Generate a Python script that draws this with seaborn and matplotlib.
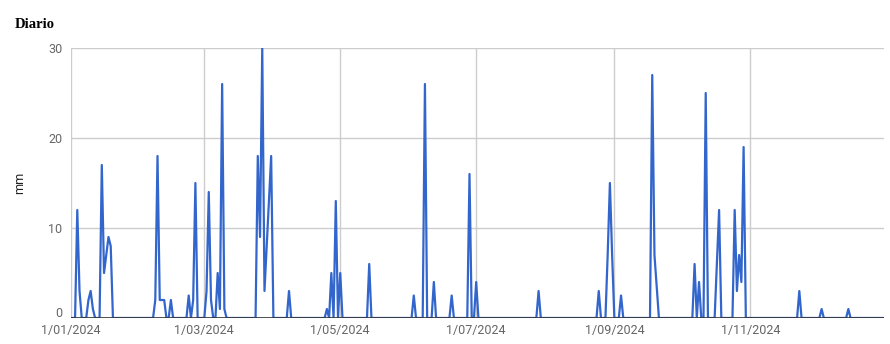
import matplotlib
matplotlib.use("Agg")
import matplotlib.pyplot as plt
import matplotlib.transforms as mtransforms
import seaborn as sns
import pandas as pd

# Daily rainfall (mm), 2024 – only rainy days listed; all other days are 0
rain_dates = [
    "2024-01-04", "2024-01-05", "2024-01-09", "2024-01-10", "2024-01-11",
    "2024-01-15", "2024-01-16", "2024-01-17", "2024-01-18", "2024-01-19",
    "2024-02-08", "2024-02-09", "2024-02-10", "2024-02-11", "2024-02-12",
    "2024-02-15", "2024-02-23", "2024-02-25", "2024-02-26",
    "2024-03-02", "2024-03-03", "2024-03-04", "2024-03-07", "2024-03-08",
    "2024-03-09", "2024-03-10", "2024-03-25", "2024-03-26", "2024-03-27",
    "2024-03-28", "2024-03-29", "2024-03-30", "2024-03-31",
    "2024-04-08", "2024-04-25", "2024-04-27", "2024-04-29", "2024-05-01",
    "2024-05-14", "2024-06-03", "2024-06-08", "2024-06-12", "2024-06-20",
    "2024-06-28", "2024-07-01", "2024-07-29", "2024-08-25", "2024-08-29",
    "2024-08-30", "2024-08-31", "2024-09-04", "2024-09-18", "2024-09-19",
    "2024-09-20", "2024-10-07", "2024-10-09", "2024-10-12", "2024-10-17",
    "2024-10-18", "2024-10-25", "2024-10-26", "2024-10-27", "2024-10-28",
    "2024-10-29", "2024-11-23", "2024-12-03", "2024-12-15",
]
rain_mm = [
    12, 3, 2, 3, 1,
    17, 5, 7, 9, 8,
    2, 18, 2, 2, 2,
    2, 2.5, 2, 15,
    3, 14, 2, 5, 1,
    26, 1, 18, 9, 30,
    3, 8, 13, 18,
    3, 1, 5, 13, 5,
    6, 2.5, 26, 4, 2.5,
    16, 4, 3, 3, 7,
    15, 7, 2.5, 27, 7,
    3.5, 6, 4, 25, 6,
    12, 12, 3, 7, 4,
    19, 3, 1, 1,
]
year_start = "2024-01-01"
year_end = "2024-12-31"
tick_dates = ["2024-01-01", "2024-03-01", "2024-05-01", "2024-07-01", "2024-09-01", "2024-11-01"]
tick_labels = ["1/01/2024", "1/03/2024", "1/05/2024", "1/07/2024", "1/09/2024", "1/11/2024"]
y_ticks = [0, 10, 20, 30]

days = pd.date_range(year_start, year_end, freq="D")
series = pd.Series(0.0, index=days)
series.loc[pd.to_datetime(rain_dates)] = rain_mm
df = pd.DataFrame({"fecha": days, "mm": series.values})

sns.set_style("white")
plt.rcParams["font.family"] = ["Roboto", "DejaVu Sans"]

W, H = 890, 344
fig = plt.figure(figsize=(W / 100, H / 100), dpi=100)
ax = fig.add_axes([70.6 / W, 1 - 318 / H, (884 - 70.6) / W, (318 - 48) / H])

sns.lineplot(data=df, x="fecha", y="mm", ax=ax, color="#3366cc", linewidth=1.6, zorder=3)

ax.set_xlim(pd.Timestamp(year_start), pd.Timestamp(year_end))
ax.set_ylim(0, 30)
ax.set_yticks(y_ticks)
ax.set_xticks(pd.to_datetime(tick_dates))
ax.set_xticklabels(tick_labels)
ax.grid(True, color="#cccccc", linewidth=1, zorder=0)
ax.axhline(0, color="#333333", linewidth=1.2, zorder=4)
for s in ax.spines.values():
    s.set_visible(False)
ax.tick_params(axis="both", length=0, labelsize=9, labelcolor="#666666")
ax.tick_params(axis="y", pad=6)
ax.tick_params(axis="x", pad=4.5)
ax.set_xlabel("")
ax.set_ylabel("")

fig.canvas.draw()
# nudge the "0" label up a little so it clears the first date label
zero_lbl = ax.get_yticklabels()[0]
shift = mtransforms.ScaledTranslation(0, 4 / 72, fig.dpi_scale_trans)
zero_lbl.set_transform(zero_lbl.get_transform() + shift)

fig.text(20 / W, 1 - 183 / H, "mm", rotation=90, ha="center", va="center",
         fontsize=9, color="#222222")
fig.text(15 / W, 1 - 28 / H, "Diario", ha="left", va="baseline",
         fontsize=10.5, fontweight="bold", fontfamily=["Liberation Serif", "DejaVu Serif"],
         color="#000000")

fig.savefig("out.png", dpi=100)
